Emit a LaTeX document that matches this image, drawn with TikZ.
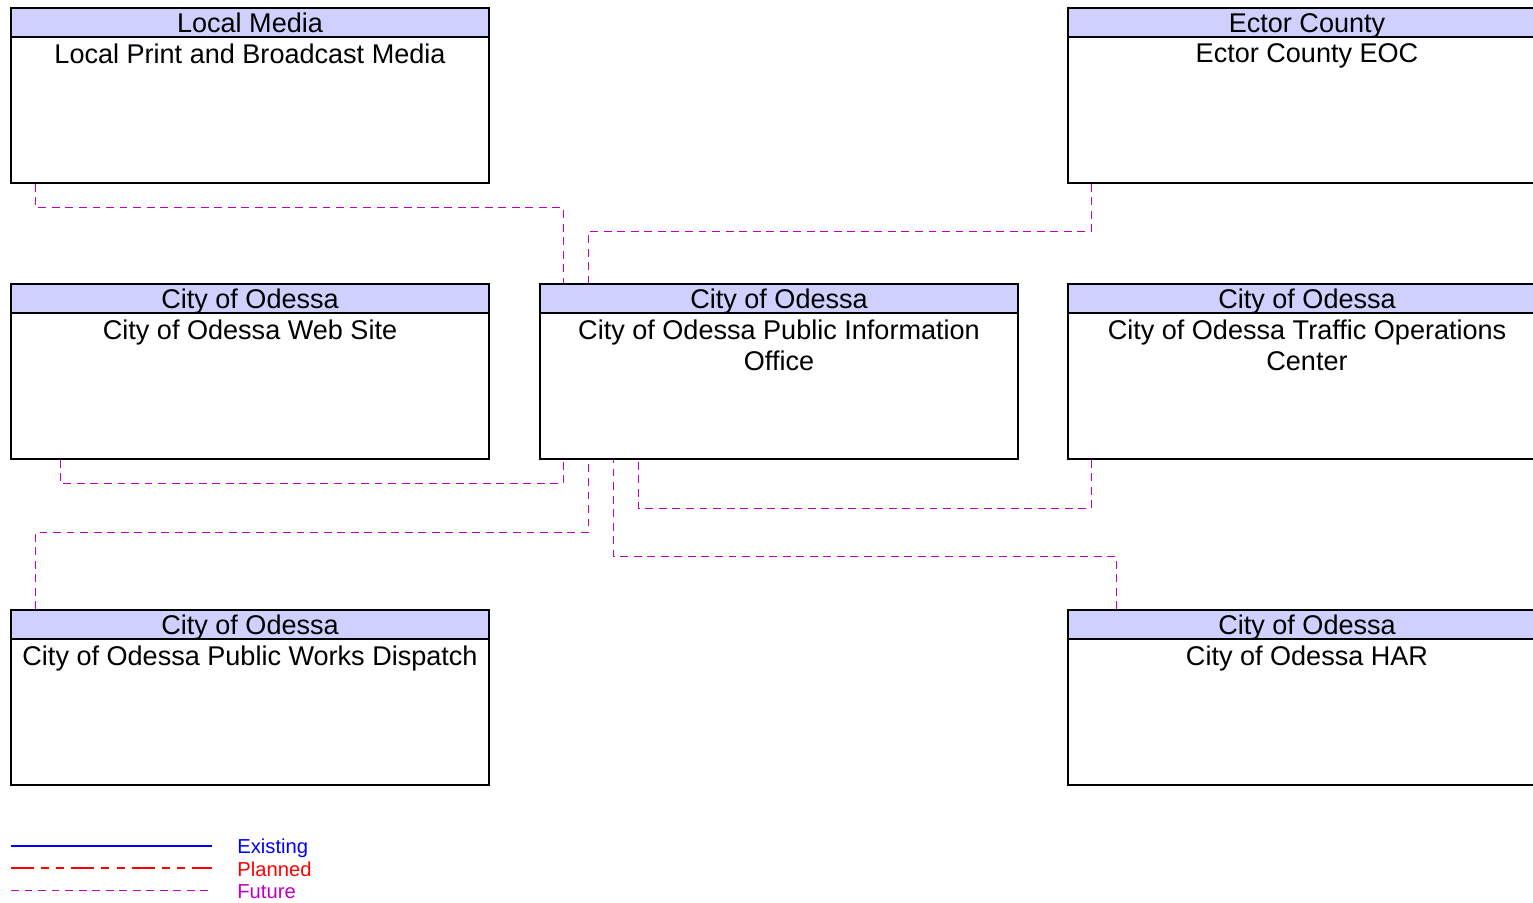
\documentclass[tikz,border=0pt]{standalone}
\usepackage{fontspec}
\setmainfont{Liberation Sans}
\usetikzlibrary{calc,positioning}
\definecolor{headfill}{HTML}{D0D0FF}
\definecolor{future}{HTML}{C000C0}
\definecolor{existing}{HTML}{0000FF}
\definecolor{planned}{HTML}{FF0000}

\begin{document}
\begin{tikzpicture}[x=0.02cm,y=-0.02cm,
  sysbox/.style={draw=black,line width=.8pt,minimum width=9.56cm,
    minimum height=3.5cm,inner sep=0pt},
  syshead/.style={draw=black,line width=.8pt,fill=headfill,
    minimum width=9.56cm,minimum height=.58cm,inner sep=0pt,
    text height=11.2pt,text depth=.3pt,
    font=\fontsize{15.4}{17.8}\selectfont},
  systext/.style={align=center,inner sep=0pt,
    font=\fontsize{15.4}{17.8}\selectfont},
  futureline/.style={future,line width=.75pt,dash pattern=on 4.5pt off 3.2pt},
  plannedline/.style={planned,line width=.75pt,
    dash pattern=on 13pt off 4pt on 4.5pt off 4.2pt on 4.5pt off 4.2pt},
  existingline/.style={existing,line width=.9pt},
  legtext/.style={anchor=base west,inner sep=0pt,
    font=\fontsize{11.5}{13}\selectfont}]
  \clip (0,0) rectangle (1533,902);

  % Systems
  \node[sysbox] (lmedia) at (250,95.5) {};
  \node[syshead,anchor=north] (lmediah) at (lmedia.north) {Local Media};
  \node[systext,below=3.2pt of lmediah] {Local Print and Broadcast Media};

  \node[sysbox] (ector) at (1307,95.5) {};
  \node[syshead,anchor=north] (ectorh) at (ector.north) {Ector County};
  \node[systext,below=3.2pt of ectorh] {Ector County EOC};

  \node[sysbox] (web) at (250,371.5) {};
  \node[syshead,anchor=north] (webh) at (web.north) {City of Odessa};
  \node[systext,below=3.2pt of webh] {City of Odessa Web Site};

  \node[sysbox] (pio) at (779,371.5) {};
  \node[syshead,anchor=north] (pioh) at (pio.north) {City of Odessa};
  \node[systext,below=3.2pt of pioh]
    {City of Odessa Public Information\\Office};

  \node[sysbox] (toc) at (1307,371.5) {};
  \node[syshead,anchor=north] (toch) at (toc.north) {City of Odessa};
  \node[systext,below=3.2pt of toch]
    {City of Odessa Traffic Operations\\Center};

  \node[sysbox] (pworks) at (250,697.5) {};
  \node[syshead,anchor=north] (pworksh) at (pworks.north) {City of Odessa};
  \node[systext,below=3.2pt of pworksh] {City of Odessa Public Works Dispatch};

  \node[sysbox] (har) at (1307,697.5) {};
  \node[syshead,anchor=north] (harh) at (har.north) {City of Odessa};
  \node[systext,below=3.2pt of harh] {City of Odessa HAR};

  % Future flows
  \draw[futureline] ($(lmedia.south west)+(25,0)$) -- ++(0,24)
    -| ($(pio.north west)+(24,0)$);
  \draw[futureline] ($(ector.south west)+(24,0)$) -- ++(0,48)
    -| ($(pio.north west)+(49,0)$);
  \draw[futureline] ($(web.south west)+(50,0)$) -- ++(0,24)
    -| ($(pio.south west)+(24,0)$);
  \draw[futureline] ($(pworks.north west)+(25,0)$) -- ++(0,-77)
    -| ($(pio.south west)+(49,0)$);
  \draw[futureline] ($(toc.south west)+(24,0)$) -- ++(0,49)
    -| ($(pio.south west)+(99,0)$);
  \draw[futureline] ($(har.north west)+(49,0)$) -- ++(0,-53)
    -| ($(pio.south west)+(74,0)$);

  % Legend
  \coordinate (exa) at (11,846);
  \coordinate (exb) at (212,846);
  \coordinate (pla) at (11,868);
  \coordinate (plb) at (212,868);
  \coordinate (fua) at (11,890.5);
  \coordinate (fub) at (212,890.5);
  \draw[existingline] (exa) -- (exb);
  \draw[plannedline] (pla) -- (plb);
  \draw[futureline] (fua) -- (fub);
  \node[legtext,existing] (legex) at (237,853.5) {Existing};
  \node[legtext,planned] (legpl) at (237,876) {Planned};
  \node[legtext,future] (legfu) at (237,898.5) {Future};
\end{tikzpicture}
\end{document}
